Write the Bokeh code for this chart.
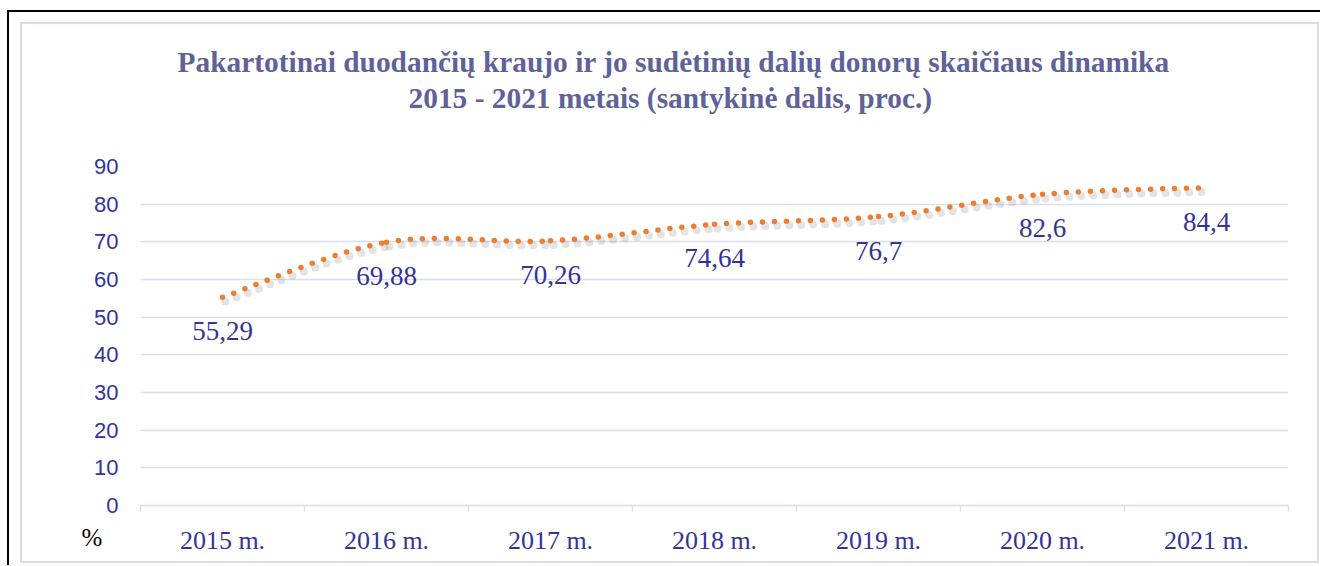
from bokeh.plotting import figure
from bokeh.models import Range1d, FixedTicker, ColumnDataSource, Title
from bokeh.core.properties import value
from bokeh.embed import file_html
from bokeh.resources import INLINE

# ---- data ----
categories = ["2015 m.", "2016 m.", "2017 m.", "2018 m.", "2019 m.", "2020 m.", "2021 m."]
values = [55.29, 69.88, 70.26, 74.64, 76.7, 82.6, 84.4]
value_labels = ["55,29", "69,88", "70,26", "74,64", "76,7", "82,6", "84,4"]
y_ticks = [0, 10, 20, 30, 40, 50, 60, 70, 80, 90]
title_lines = ["Pakartotinai duodančių kraujo ir jo sudėtinių dalių donorų skaičiaus dinamika",
               "2015 - 2021 metais (santykinė dalis, proc.)"]
unit_label = "%"

TITLE_COLOR = "#5f6299"
TEXT_BLUE = "#33339a"
ORANGE = "#ed7d31"
GRID = "#d9dee9"
BOX = "#dadde6"

xs = list(range(1, len(categories) + 1))

W, H = 1320, 565
p = figure(width=W, height=H, output_backend="svg", toolbar_location=None,
           x_range=Range1d(0.5, len(categories) + 0.5), y_range=Range1d(0, 90),
           min_border_left=140, min_border_right=W - 1288, min_border_top=166,
           min_border_bottom=H - 505, title_location=None)
p.outline_line_color = None
p.background_fill_color = "white"
p.border_fill_color = None

# page frame lines (decoration only)
grads = ", ".join(["linear-gradient(#000,#000)"] * 2 + [f"linear-gradient({BOX},{BOX})"] * 4)
p.styles = {
    "background-image": grads,
    "background-repeat": "no-repeat",
    "background-size": "1320px 2px, 2px 560px, 1299px 2px, 2px 541px, 2px 541px, 1299px 2px",
    "background-position": "7px 10px, 7px 10px, 20px 22px, 20px 22px, 1317px 22px, 20px 561px",
    "background-color": "white",
}

# axes
p.xaxis.ticker = FixedTicker(ticks=xs, minor_ticks=[x - 0.5 for x in xs] + [len(xs) + 0.5])
p.xaxis.major_label_overrides = {x: c for x, c in zip(xs, categories)}
p.xaxis.major_tick_line_color = None
p.xaxis.minor_tick_line_color = GRID
p.xaxis.minor_tick_line_width = 1.5
p.xaxis.minor_tick_out = 6
p.xaxis.minor_tick_in = 0
p.xaxis.axis_line_color = GRID
p.xaxis.axis_line_width = 1.5
p.xaxis.major_label_text_font = "Liberation Serif"
p.xaxis.major_label_text_font_size = "26px"
p.xaxis.major_label_text_color = TEXT_BLUE
p.xaxis.major_label_standoff = 14

p.yaxis.ticker = FixedTicker(ticks=y_ticks)
p.yaxis.axis_line_color = None
p.yaxis.major_tick_line_color = None
p.yaxis.minor_tick_line_color = None
p.yaxis.major_label_text_font = "Liberation Sans"
p.yaxis.major_label_text_font_size = "22px"
p.yaxis.major_label_text_color = TEXT_BLUE
p.yaxis.major_label_standoff = 16

p.xgrid.grid_line_color = None
p.ygrid.grid_line_color = GRID
p.ygrid.grid_line_width = 1.5

# smoothed curve through the data points (Catmull-Rom -> cubic Bezier)
def bez(xv, yv, dy=0.0, dx=0.0):
    x0, y0, x1, y1, cx0, cy0, cx1, cy1 = [], [], [], [], [], [], [], []
    n = len(xv)
    t = 1.0 / 6.0
    for i in range(n - 1):
        pxm = xv[i - 1] if i > 0 else xv[i]
        pym = yv[i - 1] if i > 0 else yv[i]
        pxp = xv[i + 2] if i + 2 < n else xv[i + 1]
        pyp = yv[i + 2] if i + 2 < n else yv[i + 1]
        x0.append(xv[i] + dx); y0.append(yv[i] + dy)
        x1.append(xv[i + 1] + dx); y1.append(yv[i + 1] + dy)
        cx0.append(xv[i] + (xv[i + 1] - pxm) * t + dx)
        cy0.append(yv[i] + (yv[i + 1] - pym) * t + dy)
        cx1.append(xv[i + 1] - (pxp - xv[i]) * t + dx)
        cy1.append(yv[i + 1] - (pyp - yv[i]) * t + dy)
    return dict(x0=x0, y0=y0, x1=x1, y1=y1, cx0=cx0, cy0=cy0, cx1=cx1, cy1=cy1)

shadow = ColumnDataSource(bez(xs, values, dy=-1.1, dx=0.018))
p.bezier(x0="x0", y0="y0", x1="x1", y1="y1", cx0="cx0", cy0="cy0", cx1="cx1", cy1="cy1",
         source=shadow, line_color="#808080", line_alpha=0.22, line_width=8,
         line_dash="0 12", line_cap="round")

curve = ColumnDataSource(bez(xs, values))
p.bezier(x0="x0", y0="y0", x1="x1", y1="y1", cx0="cx0", cy0="cy0", cx1="cx1", cy1="cy1",
         source=curve, line_color=ORANGE, line_width=5.5,
         line_dash="0 12", line_cap="round")

# data labels
lab = ColumnDataSource(dict(x=xs, y=values, t=value_labels))
p.text(x="x", y="y", text="t", source=lab, text_font=value("Liberation Serif"),
       text_font_size="27px", text_color=TEXT_BLUE, text_align="center",
       text_baseline="middle", y_offset=34)

# title: spacer next to the frame, then line 2, then line 1 (innermost first)
p.add_layout(Title(text=" ", text_font_size="2px", standoff=47), "above")
p.add_layout(Title(text=title_lines[1], align="left", offset=268, standoff=3,
                   text_font="Liberation Serif", text_font_size="29.4px",
                   text_font_style="bold", text_color=TITLE_COLOR), "above")
p.add_layout(Title(text=title_lines[0], align="left", offset=37, standoff=2,
                   text_font="Liberation Serif", text_font_size="29.4px",
                   text_font_style="bold", text_color=TITLE_COLOR), "above")

# unit label under the value axis
p.add_layout(Title(text=unit_label, align="left", offset=-59, standoff=-68,
                   vertical_align="top",
                   text_font="Liberation Serif", text_font_size="25px",
                   text_font_style="normal", text_color="black"), "below")

open("out.html", "w").write(file_html(p, INLINE))
